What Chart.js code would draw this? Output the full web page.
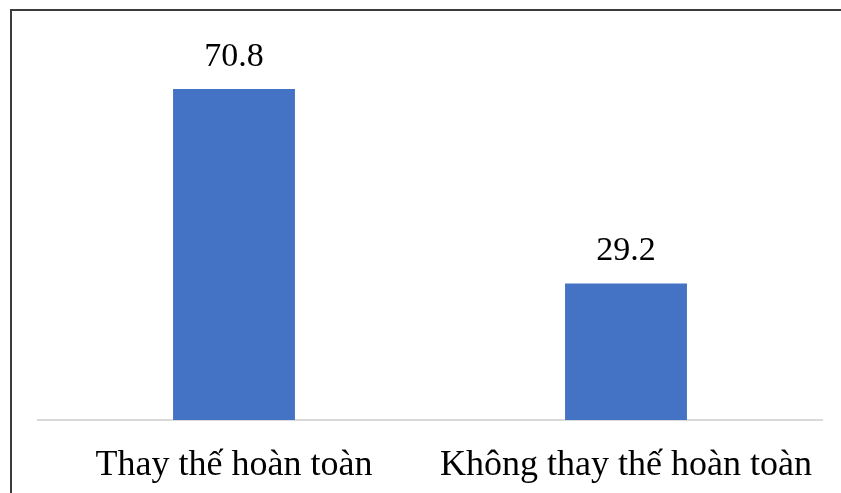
<!DOCTYPE html>
<html>
<head>
<meta charset="utf-8">
<script src="https://cdn.jsdelivr.net/npm/chart.js@4/dist/chart.umd.min.js"></script>
<style>
  html, body { margin: 0; padding: 0; background: #fff; }
  #wrap { position: relative; width: 841px; height: 493px; overflow: hidden; }
  #frame {
    position: absolute; left: 10px; top: 9px; width: 900px; height: 600px;
    border-top: 2px solid #3c3c3c; border-left: 2px solid #3c3c3c;
    pointer-events: none;
  }
  canvas { position: absolute; left: 0; top: 0; }
</style>
</head>
<body>
<div id="wrap">
  <canvas id="c" width="841" height="493"></canvas>
  <div id="frame"></div>
</div>
<script>
const categories = ['Thay thế hoàn toàn', 'Không thay thế hoàn toàn'];
const values = [70.8, 29.2];
const yMax = 80;

// value labels above each bar
const valueLabels = {
  id: 'valueLabels',
  afterDatasetsDraw(chart) {
    const ctx = chart.ctx;
    const meta = chart.getDatasetMeta(0);
    ctx.save();
    ctx.font = '34px "Liberation Serif", "Times New Roman", serif';
    ctx.fillStyle = '#000';
    ctx.textAlign = 'center';
    ctx.textBaseline = 'alphabetic';
    meta.data.forEach((bar, i) => {
      ctx.fillText(values[i].toFixed(1), bar.x, bar.y - 23);
    });
    ctx.restore();
  }
};

new Chart(document.getElementById('c'), {
  type: 'bar',
  data: {
    labels: categories,
    datasets: [{
      data: values,
      backgroundColor: '#4472C4',
      borderWidth: 0,
      categoryPercentage: 1,
      barPercentage: 0.311
    }]
  },
  options: {
    responsive: false,
    animation: false,
    layout: { padding: { left: 38, right: 19, top: 46, bottom: 0 } },
    plugins: { legend: { display: false }, tooltip: { enabled: false } },
    scales: {
      x: {
        afterFit(scale) { scale.height = 73; },
        grid: { display: false, drawTicks: false, tickLength: 0 },
        border: { display: true, color: '#d9d9d9', width: 2 },
        ticks: {
          color: '#000',
          padding: 24,
          maxRotation: 0,
          font: { family: '"Liberation Serif", "Times New Roman", serif', size: 36 }
        }
      },
      y: { display: false, min: 0, max: yMax }
    }
  },
  plugins: [valueLabels]
});
</script>
</body>
</html>
